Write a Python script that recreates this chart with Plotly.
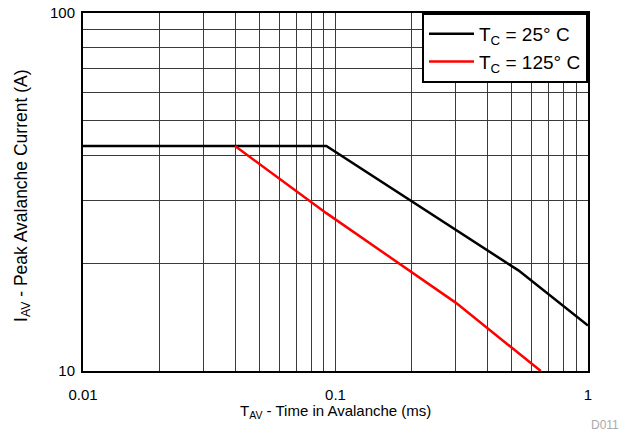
import plotly.graph_objects as go

# Data
t25 = [0.01, 0.092, 0.53, 1.0]
i25 = [42.5, 42.5, 19.1, 13.4]
t125 = [0.04, 0.092, 0.30, 0.65]
i125 = [42.5, 27.6, 15.5, 10.0]

x_tickvals = [m * 10.0**e for e in (-2, -1) for m in range(1, 10)] + [1.0]
x_ticktext = ["0.01"] + [""] * 8 + ["0.1"] + [""] * 8 + ["1"]
y_tickvals = [10 * m for m in range(1, 11)]
y_ticktext = ["10"] + [""] * 8 + ["100"]

font = "Liberation Sans, Arial, Helvetica, sans-serif"

fig = go.Figure()
fig.add_trace(go.Scatter(x=t25, y=i25, mode="lines", name="T<sub>C</sub> = 25° C",
                         line=dict(color="black", width=2.5)))
fig.add_trace(go.Scatter(x=t125, y=i125, mode="lines", name="T<sub>C</sub> = 125° C",
                         line=dict(color="#ff0000", width=2.5)))

axis_common = dict(showline=True, linecolor="black", linewidth=2, mirror=True,
                   showgrid=True, gridcolor="#3a3a3a", gridwidth=1,
                   ticks="", zeroline=False, automargin=False,
                   tickfont=dict(family=font, size=15, color="black"))

fig.update_layout(
    width=624, height=436,
    margin=dict(l=83, r=36, t=13, b=65),
    paper_bgcolor="white", plot_bgcolor="white",
    font=dict(family=font, size=15, color="black"),
    xaxis=dict(type="log", range=[-2, 0], tickvals=x_tickvals, ticktext=x_ticktext,
               ticklabelstandoff=9, **axis_common),
    yaxis=dict(type="log", range=[1, 2], tickvals=y_tickvals, ticktext=y_ticktext,
               ticklabelstandoff=3, **axis_common),
    legend=dict(x=1, y=1, xanchor="right", yanchor="top",
                bgcolor="white", bordercolor="black", borderwidth=2,
                font=dict(family=font, size=19), tracegroupgap=0, itemwidth=45),
    showlegend=True,
)

fig.add_annotation(text="T<sub>AV</sub> - Time in Avalanche (ms)", xref="paper", yref="paper",
                   x=0.5, y=-0.113, xanchor="center", yanchor="middle", showarrow=False,
                   font=dict(family=font, size=15, color="black"))
fig.add_annotation(text="I<sub>AV</sub> - Peak Avalanche Current (A)", xref="paper", yref="paper",
                   x=-0.12, y=0.49, xanchor="center", yanchor="middle", showarrow=False,
                   textangle=-90, font=dict(family=font, size=17.5, color="black"))
fig.add_annotation(text="D011", xref="paper", yref="paper", x=1.065, y=-0.151,
                   xanchor="right", yanchor="middle", showarrow=False,
                   font=dict(family=font, size=12, color="#aaaaaa"))

fig.write_html("out.html", config={"displayModeBar": False},
               post_script="document.body.style.margin='0px';document.body.style.padding='0px';")
